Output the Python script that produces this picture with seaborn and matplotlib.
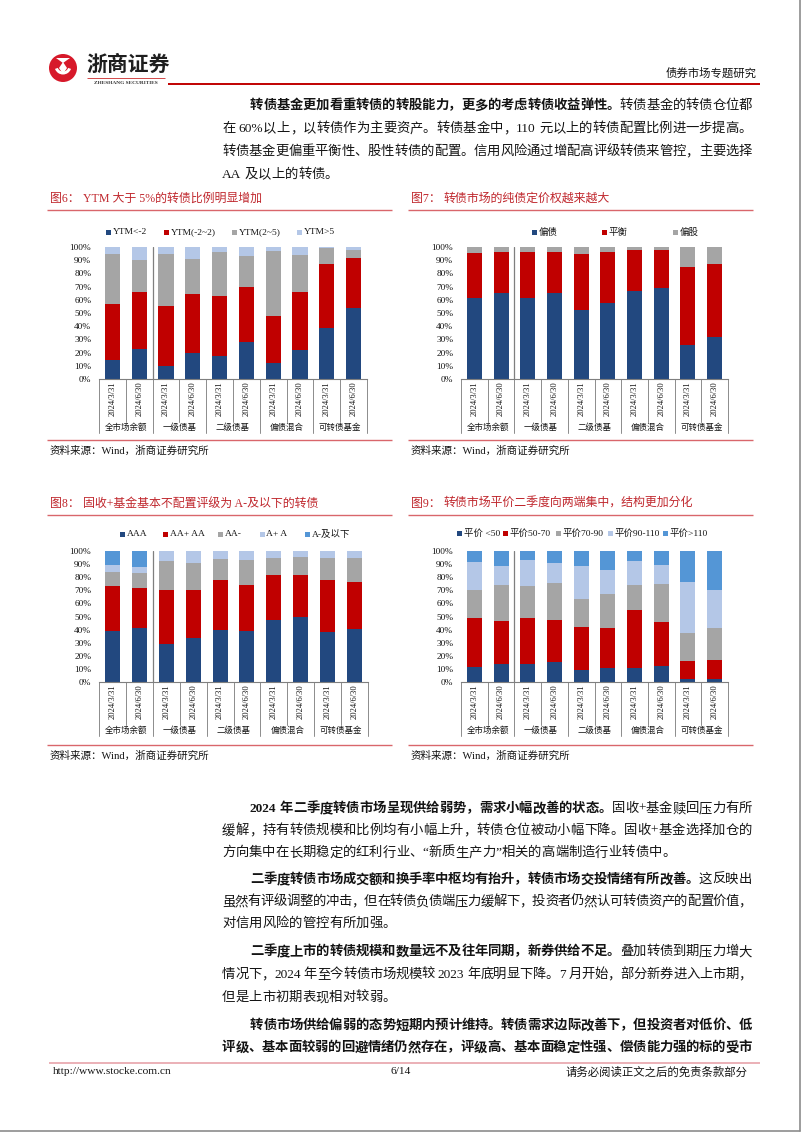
import numpy as np
import pandas as pd
import matplotlib
matplotlib.use("Agg")
import matplotlib.pyplot as plt
import seaborn as sns
from matplotlib.patches import Rectangle, Circle, Wedge, Polygon

# ---------------- data ----------------
dates = ["2024/3/31", "2024/6/30"]
groups = ["全市场余额", "一级债基", "二级债基", "偏债混合", "可转债基金"]

# Fig 6: YTM buckets (%)
ytm_labels = ["YTM<-2", "YTM(-2~2)", "YTM(2~5)", "YTM>5"]
ytm_lt_m2 = [14.5, 23, 10, 19.5, 17.5, 28, 12.5, 22, 38.5, 53.5]
ytm_m2_2 = [42, 43, 45, 45, 45.5, 42, 35.5, 44, 48.5, 38.5]
ytm_2_5 = [38.5, 24, 40, 26.5, 33, 23, 49, 28, 12.5, 6]
ytm_gt5 = [5, 10, 5, 9, 4, 7, 3, 6, 0.5, 2]

# Fig 7: style
style_labels = ["偏债", "平衡", "偏股"]
bond_like = [61, 65.5, 61.5, 65.5, 52.5, 57.5, 66.5, 69, 26, 31.5]
balanced = [34.5, 31, 35, 31, 42, 38.5, 31, 29, 59, 56]
equity_like = [4.5, 3.5, 3.5, 3.5, 5.5, 4, 2.5, 2, 15, 12.5]

# Fig 8: rating
rating_labels = ["AAA", "AA+ AA", "AA-", "A+ A", "A-及以下"]
rating_aaa = [39, 41, 29, 33.5, 40, 39, 47.5, 50, 38, 40.5]
rating_aa = [34, 31, 41.5, 36.5, 37.5, 35, 34.5, 32, 39.5, 36]
rating_aam = [11, 11, 21.5, 21, 16.5, 19, 13, 13.5, 17.5, 18.5]
rating_a = [5, 5, 8, 9, 6, 7, 5, 4.5, 5, 5]
rating_below = [11, 12, 0, 0, 0, 0, 0, 0, 0, 0]

# Fig 9: parity
parity_labels = ["平价 <50", "平价50-70", "平价70-90", "平价90-110", "平价>110"]
par_lt50 = [11.5, 14, 13.5, 15.5, 9, 10.5, 11, 12.5, 2.5, 2.5]
par_50_70 = [37, 32.5, 35.5, 31.5, 33, 31, 44, 33.5, 13.5, 14.5]
par_70_90 = [22, 27.5, 24, 28.5, 21, 25.5, 19, 29, 21.5, 24]
par_90_110 = [21, 14.5, 20.5, 15, 25.5, 18.5, 18.5, 14, 38.5, 29.5]
par_gt110 = [8.5, 11.5, 6.5, 9.5, 11.5, 14.5, 7.5, 11, 24, 29.5]

# ---------------- style ----------------
sns.set_theme(style="white")
FAM = ['Liberation Serif', 'Noto Sans CJK SC', 'DejaVu Sans']
plt.rcParams['font.family'] = FAM

NAVY = '#22487F'
RED = '#C00000'
GRAY = '#A5A5A5'
LBLUE = '#B4C7E7'
MBLUE = '#5496D6'
TITLE_RED = '#C0272D'
LINE_RED = '#D9666B'
TXT = '#141414'

W, H = 802, 1133
fig = plt.figure(figsize=(W / 100, H / 100), dpi=100)
fig.patch.set_facecolor('white')
bg = fig.add_axes([0, 0, 1, 1])
bg.set_xlim(0, W)
bg.set_ylim(H, 0)
bg.axis('off')
renderer = fig.canvas.get_renderer()


def hline(x0, x1, y, color, lw):
    bg.plot([x0, x1], [y, y], color=color, lw=lw, solid_capstyle='butt')


# ---------------- header ----------------
bg.add_patch(Circle((63, 68), 14, color='#D7192A', lw=0))
bg.add_patch(Wedge((63, 66), 8.5, 20, 160, width=3.0, color='white', lw=0))
bg.add_patch(Polygon([(63, 62), (67, 68), (63, 74), (59, 68)], closed=True, color='white', lw=0))
bg.add_patch(Polygon([(56, 58), (70, 58), (63, 63)], closed=True, color='white', lw=0))
bg.text(86, 64, "浙商证券", fontsize=15, fontweight='bold', family=['Noto Sans CJK SC'],
        color='#1E1E1E', va='center', ha='left')
hline(87, 165, 77.5, '#C00000', 0.5)
bg.text(126, 82.5, "ZHESHANG SECURITIES", fontsize=3.9, fontweight='bold', color='#333333',
        va='center', ha='center')
hline(168, 760, 84, '#C00000', 1.4)
bg.text(757, 73, "债券市场专题研究", fontsize=8.2, color=TXT, va='center', ha='right')


# ---------------- justified body text ----------------
def tokens_of(segments):
    toks = []
    for text, bold in segments:
        run = ""
        for ch in text:
            if ord(ch) < 128 and ch != ' ':
                run += ch
            else:
                if run:
                    toks.append((run, bold))
                    run = ""
                toks.append((ch, bold))
        if run:
            toks.append((run, bold))
    return toks


def body_line(x0, x1, y, segments, justify=True, fs=9.6):
    toks = tokens_of(segments)
    objs, widths = [], []
    for t, b in toks:
        if t == ' ':
            objs.append(None)
            widths.append(fs * 100 / 72 * 0.25)
            continue
        o = bg.text(0, y, t, fontsize=fs, fontweight='bold' if b else 'normal',
                    va='center', ha='left', color=TXT)
        objs.append(o)
        widths.append(o.get_window_extent(renderer).width)
    gap = 0.0
    if justify and len(toks) > 1:
        gap = ((x1 - x0) - sum(widths)) / (len(toks) - 1)
    x = x0
    for o, w in zip(objs, widths):
        if o is not None:
            o.set_x(x)
        x += w + gap


TX0, TX1, IND = 222, 752, 250
top_lines = [
    (106, IND, [("转债基金更加看重转债的转股能力，更多的考虑转债收益弹性。", True), ("转债基金的转债仓位都", False)], True),
    (129, TX0, [("在 60%以上，以转债作为主要资产。转债基金中，110 元以上的转债配置比例进一步提高。", False)], True),
    (152, TX0, [("转债基金更偏重平衡性、股性转债的配置。信用风险通过增配高评级转债来管控，主要选择", False)], True),
    (175, TX0, [("AA 及以上的转债。", False)], False),
]
bottom_lines = [
    (809, IND, [("2024 年二季度转债市场呈现供给弱势，需求小幅改善的状态。", True), ("固收+基金赎回压力有所", False)], True),
    (831, TX0, [("缓解，持有转债规模和比例均有小幅上升，转债仓位被动小幅下降。固收+基金选择加仓的", False)], True),
    (853, TX0, [("方向集中在长期稳定的红利行业、“新质生产力”相关的高端制造行业转债中。", False)], False),
    (880, IND, [("二季度转债市场成交额和换手率中枢均有抬升，转债市场交投情绪有所改善。", True), ("这反映出", False)], True),
    (902, TX0, [("虽然有评级调整的冲击，但在转债负债端压力缓解下，投资者仍然认可转债资产的配置价值，", False)], True),
    (924, TX0, [("对信用风险的管控有所加强。", False)], False),
    (952, IND, [("二季度上市的转债规模和数量远不及往年同期，新券供给不足。", True), ("叠加转债到期压力增大", False)], True),
    (975, TX0, [("情况下，2024 年至今转债市场规模较 2023 年底明显下降。7 月开始，部分新券进入上市期，", False)], True),
    (998, TX0, [("但是上市初期表现相对较弱。", False)], False),
    (1026, IND, [("转债市场供给偏弱的态势短期内预计维持。转债需求边际改善下，但投资者对低价、低", True)], True),
    (1048, TX0, [("评级、基本面较弱的回避情绪仍然存在，评级高、基本面稳定性强、偿债能力强的标的受市", True)], True),
]
for y, x0, segs, just in top_lines + bottom_lines:
    body_line(x0, TX1, y, segs, just)


# ---------------- charts ----------------
def chart(num, title, left, right, title_y, legend_y, plot_box, source_y,
          labels, legend_xs, series, colors):
    bg.text(left + 3, title_y, f"图{num}：", fontsize=8.6, color=TITLE_RED, va='center', ha='left')
    bg.text(left + 36, title_y, title, fontsize=8.6, color=TITLE_RED, va='center', ha='left')
    hline(left, right, title_y + 10.5, LINE_RED, 1.0)
    hline(left, right, source_y - 11, LINE_RED, 1.0)
    bg.text(left + 3, source_y, "资料来源：Wind，浙商证券研究所", fontsize=7.6, color=TXT,
            va='center', ha='left')
    for lab, lx, c in zip(labels, legend_xs, colors):
        bg.add_patch(Rectangle((lx - 2.5, legend_y - 2.5), 5, 5, color=c, lw=0))
        bg.text(lx + 4.5, legend_y, lab, fontsize=6.8, color=TXT, va='center', ha='left')

    x0, y0, x1, y1 = plot_box
    ax = fig.add_axes([x0 / W, 1 - y1 / H, (x1 - x0) / W, (y1 - y0) / H])
    ax.set_facecolor('none')
    cats = [f"{g}|{d}" for g in groups for d in dates]
    cum = np.cumsum(np.array(series, dtype=float), axis=0)
    for i in range(len(series) - 1, -1, -1):
        df = pd.DataFrame({"cat": cats, "val": cum[i]})
        sns.barplot(data=df, x="cat", y="val", order=cats, color=colors[i], saturation=1,
                    width=0.56, errorbar=None, linewidth=0, ax=ax)
    ax.set_xlim(-0.5, 9.5)
    ax.set_ylim(0, 100)
    ax.set_xlabel("")
    ax.set_ylabel("")
    ax.set_xticks([])
    ax.set_yticks(np.arange(0, 101, 10))
    ax.set_yticklabels([f"{v}%" for v in range(0, 101, 10)], fontsize=6.7, color=TXT)
    ax.tick_params(axis='y', length=0, pad=5.5)
    for s in ['top', 'right', 'left']:
        ax.spines[s].set_visible(False)
    ax.spines['bottom'].set_color('#7F7F7F')
    ax.spines['bottom'].set_linewidth(0.8)

    axh = y1 - y0
    tr = ax.get_xaxis_transform()
    ax.plot([1.5, 1.5], [0, 1], transform=tr, color='#7F7F7F', lw=0.9)
    for k in range(11):
        xb = k - 0.5
        L = 54 if k % 2 == 0 else 43
        ax.plot([xb, xb], [0, -L / axh], transform=tr, color='#8C8C8C', lw=0.7, clip_on=False)
    for i in range(10):
        ax.text(i, -20 / axh, dates[i % 2], rotation=90, ha='center', va='center',
                transform=tr, fontsize=6.1, color=TXT)
    for g, name in enumerate(groups):
        ax.text(2 * g + 0.5, -49 / axh, name, ha='center', va='center', transform=tr,
                fontsize=6.1, color=TXT)
    return ax


chart(6, "YTM 大于 5%的转债比例明显增加", 47, 392, 199, 232, (99, 247, 367, 379), 451,
      ytm_labels, [108, 166, 234, 299],
      [ytm_lt_m2, ytm_m2_2, ytm_2_5, ytm_gt5], [NAVY, RED, GRAY, LBLUE])
chart(7, "转债市场的纯债定价权越来越大", 408, 753, 199, 232, (461, 247, 728, 379), 451,
      style_labels, [534, 604, 675],
      [bond_like, balanced, equity_like], [NAVY, RED, GRAY])
chart(8, "固收+基金基本不配置评级为 A-及以下的转债", 47, 392, 504, 534, (99, 551, 368, 682), 756,
      rating_labels, [122, 165, 220, 262, 307],
      [rating_aaa, rating_aa, rating_aam, rating_a, rating_below], [NAVY, RED, GRAY, LBLUE, MBLUE])
chart(9, "转债市场平价二季度向两端集中，结构更加分化", 408, 753, 504, 533, (461, 551, 728, 682), 756,
      parity_labels, [459, 505, 558, 610, 665],
      [par_lt50, par_50_70, par_70_90, par_90_110, par_gt110], [NAVY, RED, GRAY, LBLUE, MBLUE])

# ---------------- footer ----------------
hline(49, 760, 1063, '#E8A3AA', 1.2)
bg.text(53, 1072, "http://www.stocke.com.cn", fontsize=8.2, color=TXT, va='center', ha='left')
bg.text(401, 1072, "6/14", fontsize=8.2, color=TXT, va='center', ha='center')
bg.text(748, 1072, "请务必阅读正文之后的免责条款部分", fontsize=8.2, color=TXT, va='center', ha='right')
bg.plot([800, 800], [0, 1131], color='#8C8C8C', lw=1.2)
bg.plot([0, 800], [1131, 1131], color='#8C8C8C', lw=1.2)

fig.savefig("out.png", dpi=100, facecolor='white')
